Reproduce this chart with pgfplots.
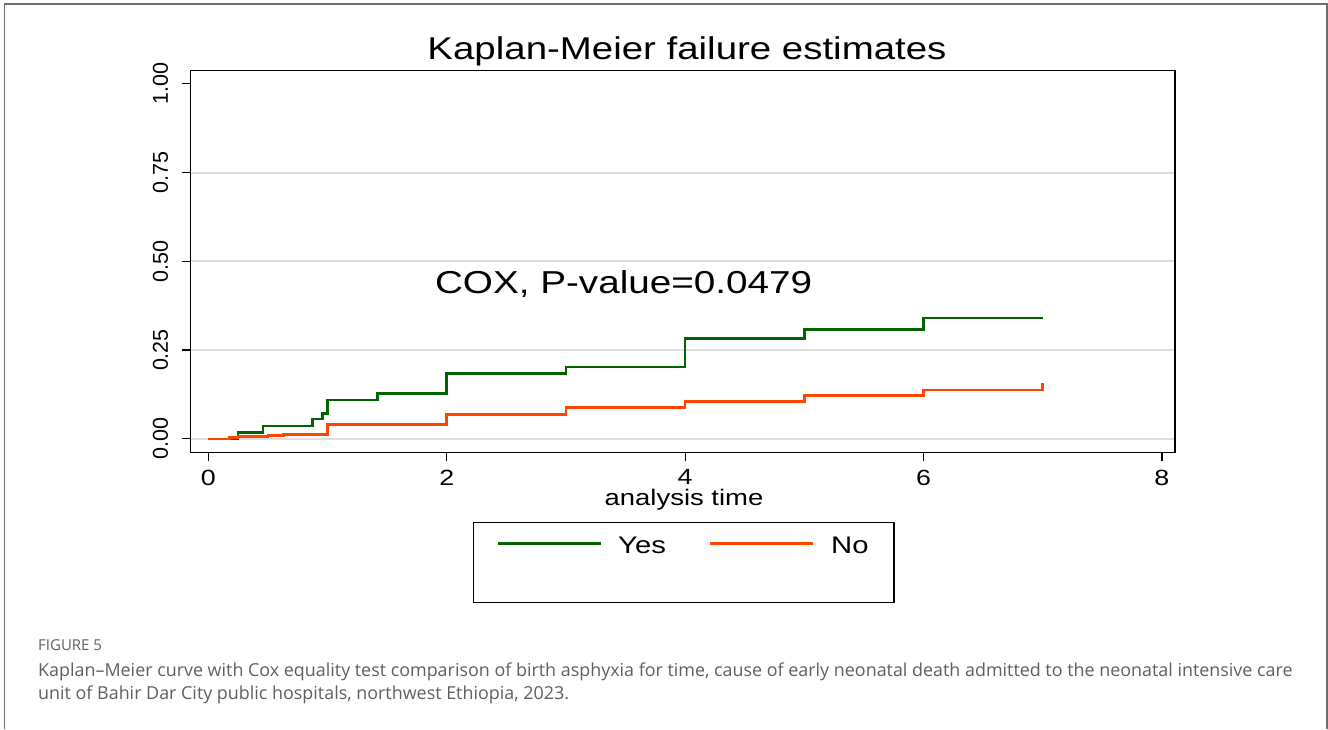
\documentclass[border=0pt]{standalone}
\usepackage{fontspec}
\usepackage{pgfplots}
\pgfplotsset{compat=1.18}
\setmainfont{Open Sans}
\newfontfamily\chartfont[FakeStretch=1.22]{Liberation Sans}
\newfontfamily\plainfont{Liberation Sans}
\newfontfamily\capfont{Open Sans}
\definecolor{kmgreen}{RGB}{0,100,0}
\definecolor{kmorange}{RGB}{255,69,0}
\definecolor{frameg}{RGB}{110,110,110}
\definecolor{capgray}{RGB}{95,95,95}
\definecolor{gridg}{RGB}{222,222,222}

\pgfplotstableread{
t y
0 0
0.25 0.018
0.46 0.036
0.875 0.056
0.96 0.072
1.0 0.109
1.42 0.128
2 0.184
3 0.202
4 0.282
5 0.308
6 0.340
7 0.340
}\yesdata

\pgfplotstableread{
t y
0 0
0.18 0.004
0.25 0.006
0.5 0.009
0.63 0.012
1.0 0.041
2 0.069
3 0.089
4 0.105
5 0.122
6 0.138
7 0.157
}\nodata

\begin{document}
\begin{tikzpicture}[x=1pt,y=1pt]
\useasboundingbox (0,0) rectangle (1328,729);
\draw[frameg, line width=1.5pt] (4.5,0) -- (4.5,725) -- (1327,725) -- (1327,0);
\begin{axis}[
 at={(190.7pt,276.7pt)}, anchor=south west,
 scale only axis, width=984.3pt, height=381.6pt,
 xmin=-0.148, xmax=8.11, ymin=-0.038, ymax=1.037,
 axis line style={black, line width=1.3pt},
 xtick={0,2,4,6,8}, ytick={0,0.25,0.5,0.75,1},
 minor ytick={0,0.25,0.5,0.75}, yminorgrids, minor tick length=0pt,
 minor grid style={draw=gridg, line width=2pt},
 tick align=outside, major tick length=9pt,
 major tick style={black, line width=1.2pt},
 xtick pos=bottom, ytick pos=left,
 xticklabel shift=5pt, yticklabel shift=10pt,
 /pgf/number format/assume math mode=true,
 xticklabel style={anchor=north, font=\chartfont\fontsize{22}{26}\selectfont},
 yticklabel style={/pgf/number format/fixed, /pgf/number format/fixed zerofill, /pgf/number format/precision=2, rotate=90, anchor=south, font=\plainfont\fontsize{21.5}{25}\selectfont},
]
\addplot[const plot, kmgreen, line width=2.6pt] table[x=t,y=y] {\yesdata};
\addplot[const plot, kmorange, line width=2.6pt] table[x=t,y=y] {\nodata};
\node[anchor=base west, inner sep=0pt, font=\chartfont\fontsize{31.7}{36}\selectfont] at (axis cs:1.90,0.408) {COX, P-value=0.0479};
\end{axis}
\node[anchor=base, inner sep=0pt, font=\chartfont\fontsize{31.5}{36}\selectfont] at (687,669) {Kaplan-Meier failure estimates};
\node[anchor=base, inner sep=0pt, font=\chartfont\fontsize{22.5}{26}\selectfont] at (684,224) {analysis time};
% legend
\draw[black, line width=1.3pt] (473.5,206.3) rectangle (894,126.7);
\draw[kmgreen, line width=2.6pt] (498,185.7) -- (600.5,185.7);
\node[anchor=base west, inner sep=0pt, font=\chartfont\fontsize{24}{28}\selectfont] at (618,175.7) {Yes};
\draw[kmorange, line width=2.6pt] (710,185.7) -- (813,185.7);
\node[anchor=base west, inner sep=0pt, font=\chartfont\fontsize{24}{28}\selectfont] at (831,175.7) {No};
% caption
\node[anchor=base west, inner sep=0pt, text=capgray, font=\capfont\fontsize{15}{18}\selectfont] at (38,79) {FIGURE 5};
\node[anchor=base west, inner sep=0pt, text=capgray, font=\capfont\fontsize{17.9}{21}\selectfont] at (38,53) {Kaplan–Meier curve with Cox equality test comparison of birth asphyxia for time, cause of early neonatal death admitted to the neonatal intensive care};
\node[anchor=base west, inner sep=0pt, text=capgray, font=\capfont\fontsize{17.9}{21}\selectfont] at (38,30) {unit of Bahir Dar City public hospitals, northwest Ethiopia, 2023.};
\end{tikzpicture}
\end{document}
